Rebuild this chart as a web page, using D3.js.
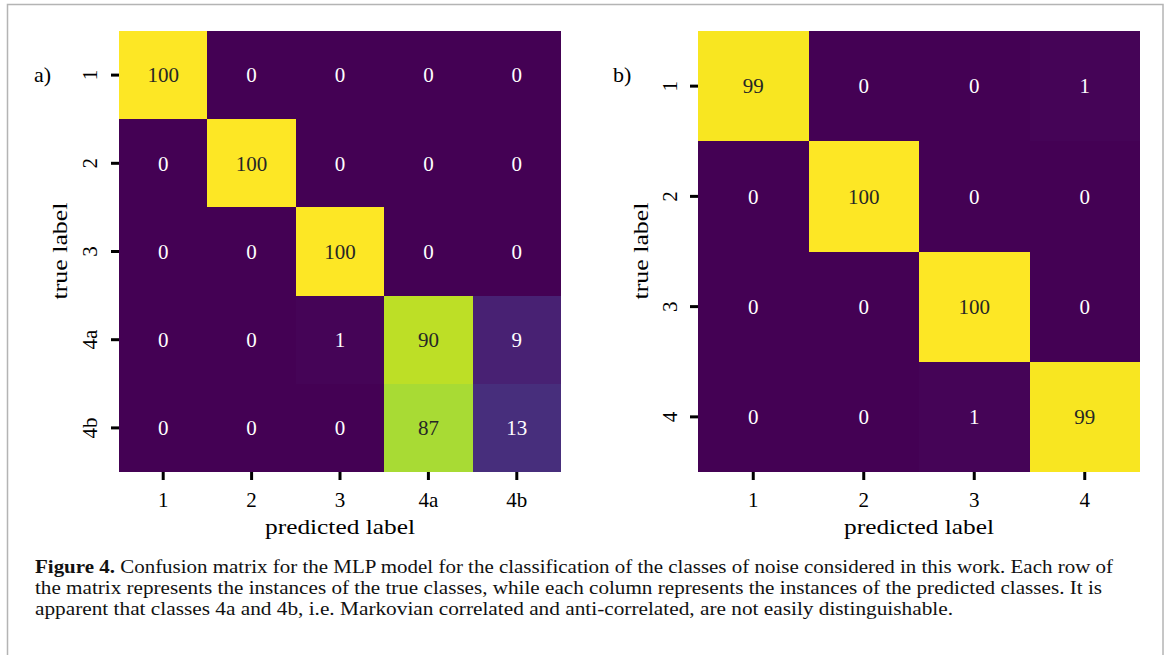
<!DOCTYPE html>
<html>
<head>
<meta charset="utf-8">
<script src="https://cdn.jsdelivr.net/npm/d3@7"></script>
<style>
  body { margin: 0; background: #fff; }
  svg { display: block; }
</style>
</head>
<body>
<svg id="fig"></svg>
<script>
// page size
var w = 1167;
var h = 655;

// data of the two confusion matrices (rows = true, cols = predicted)
const labelsA = ["1", "2", "3", "4a", "4b"];
const matrixA = [
  [100, 0, 0, 0, 0],
  [0, 100, 0, 0, 0],
  [0, 0, 100, 0, 0],
  [0, 0, 1, 90, 9],
  [0, 0, 0, 87, 13]
];
const labelsB = ["1", "2", "3", "4"];
const matrixB = [
  [99, 0, 0, 1],
  [0, 100, 0, 0],
  [0, 0, 100, 0],
  [0, 0, 1, 99]
];
const captionBold = "Figure 4.";
const captionLines = [
  " Confusion matrix for the MLP model for the classification of the classes of noise considered in this work. Each row of",
  "the matrix represents the instances of the true classes, while each column represents the instances of the predicted classes. It is",
  "apparent that classes 4a and 4b, i.e. Markovian correlated and anti-correlated, are not easily distinguishable."
];

var font = "'Liberation Serif', 'DejaVu Serif', serif";

var svg = d3.select("#fig")
  .attr("width", w)
  .attr("height", h);

// frame of the figure
svg.append("rect")
  .attr("x", 7.5).attr("y", 4.5)
  .attr("width", 1155.5).attr("height", 700)
  .attr("fill", "none")
  .attr("stroke", "#b4b4b4")
  .attr("stroke-width", 1.5);

function heatmap(cfg, labels, matrix) {
  var g = svg.append("g");

  var x = d3.scaleBand().domain(labels).range([cfg.left, cfg.right]);
  var y = d3.scaleBand().domain(labels).range([cfg.top, cfg.bottom]);
  var vals = matrix.flat();
  var color = d3.scaleSequential(d3.interpolateViridis)
    .domain([d3.min(vals), d3.max(vals)]);

  var cells = [];
  matrix.forEach((row, i) => row.forEach((v, j) => {
    cells.push({ r: labels[i], c: labels[j], v: v });
  }));

  g.selectAll("rect.cell")
    .data(cells)
    .enter()
    .append("rect")
    .attr("class", "cell")
    .attr("x", d => Math.round(x(d.c)))
    .attr("y", d => Math.round(y(d.r)))
    .attr("width", d => Math.round(x(d.c) + x.bandwidth()) - Math.round(x(d.c)))
    .attr("height", d => Math.round(y(d.r) + y.bandwidth()) - Math.round(y(d.r)))
    .attr("shape-rendering", "crispEdges")
    .attr("fill", d => color(d.v));

  g.selectAll("text.ann")
    .data(cells)
    .enter()
    .append("text")
    .attr("class", "ann")
    .attr("x", d => x(d.c) + x.bandwidth() / 2)
    .attr("y", d => y(d.r) + y.bandwidth() / 2)
    .attr("dy", "0.35em")
    .attr("text-anchor", "middle")
    .style("font-family", font)
    .style("font-size", "21px")
    .attr("fill", d => d.v > 50 ? "#262626" : "#ffffff")
    .text(d => d.v);

  // left axis (rotated tick labels)
  var ya = g.append("g")
    .attr("transform", `translate(${cfg.left},0)`)
    .call(d3.axisLeft(y).tickSize(8).tickPadding(0));
  ya.select(".domain").remove();
  ya.selectAll(".tick line").attr("stroke", "#000").attr("stroke-width", 3);
  ya.selectAll(".tick text")
    .attr("x", 0).attr("dy", 0)
    .attr("text-anchor", "middle")
    .attr("transform", `translate(${-cfg.ytickOff},0) rotate(-90)`)
    .style("font-family", font)
    .style("font-size", "21px")
    .attr("fill", "#000");

  // bottom axis
  var xa = g.append("g")
    .attr("transform", `translate(0,${cfg.bottom})`)
    .call(d3.axisBottom(x).tickSize(8).tickPadding(0));
  xa.select(".domain").remove();
  xa.selectAll(".tick line").attr("stroke", "#000").attr("stroke-width", 3);
  xa.selectAll(".tick text")
    .attr("y", 35).attr("dy", 0)
    .style("font-family", font)
    .style("font-size", "21px")
    .attr("fill", "#000");

  // axis titles
  var cy = (cfg.top + cfg.bottom) / 2;
  g.append("text")
    .attr("transform", `translate(${cfg.ylabX},${cy}) rotate(-90)`)
    .attr("x", -48)
    .attr("textLength", 97)
    .attr("lengthAdjust", "spacingAndGlyphs")
    .style("font-family", font)
    .style("font-size", "22px")
    .text("true label");
  var cx = (cfg.left + cfg.right) / 2;
  g.append("text")
    .attr("x", cx - 75)
    .attr("y", 534)
    .attr("textLength", 150)
    .attr("lengthAdjust", "spacingAndGlyphs")
    .style("font-family", font)
    .style("font-size", "22px")
    .text("predicted label");

  // panel tag
  g.append("text")
    .attr("x", cfg.tagX).attr("y", 82)
    .style("font-family", font)
    .style("font-size", "22px")
    .text(cfg.tag);
}

heatmap({ left: 119, right: 561, top: 31, bottom: 472, ytickOff: 22, ylabX: 67, tagX: 34, tag: "a)" },
  labelsA, matrixA);
heatmap({ left: 698, right: 1140, top: 31, bottom: 472, ytickOff: 21, ylabX: 648, tagX: 613, tag: "b)" },
  labelsB, matrixB);

// caption
var capEnds = [1113, 1102, 953];
var cap = svg.append("g").style("font-family", font).style("font-size", "18px").attr("fill", "#111");
captionLines.forEach((line, i) => {
  var t = cap.append("text")
    .attr("x", 35)
    .attr("y", 573 + i * 21)
    .attr("textLength", capEnds[i] - 35)
    .attr("lengthAdjust", "spacingAndGlyphs");
  if (i === 0) {
    t.append("tspan").style("font-weight", "bold").text(captionBold);
  }
  t.append("tspan").text(line);
});
</script>
</body>
</html>
